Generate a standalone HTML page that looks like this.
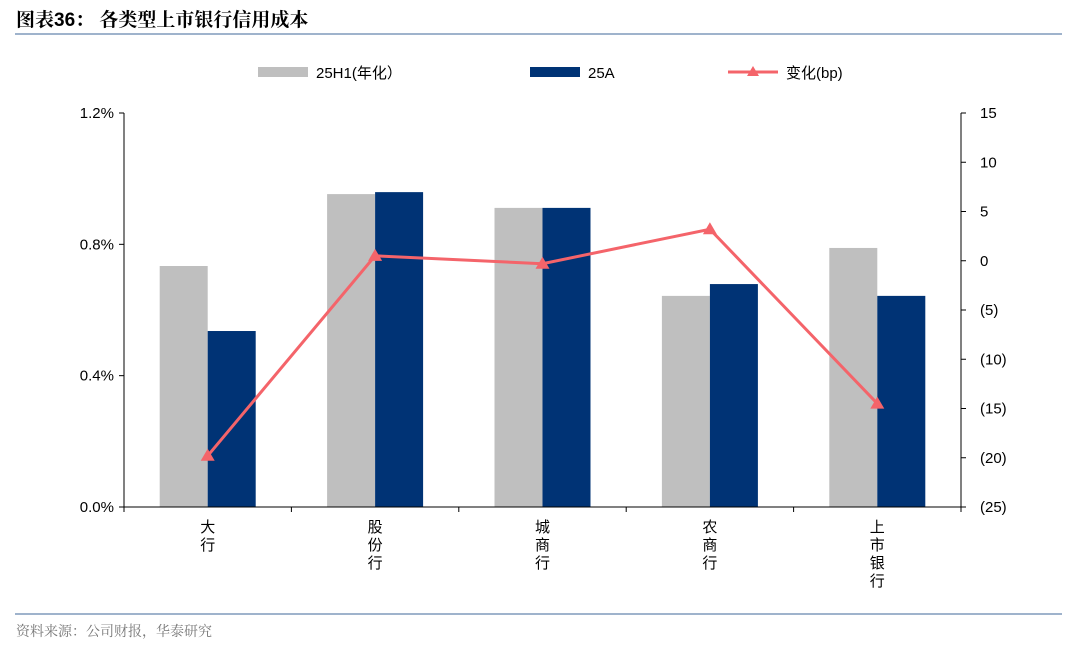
<!DOCTYPE html>
<html><head><meta charset="utf-8"><style>
body{margin:0;background:#fff;width:1080px;height:647px;overflow:hidden;font-family:"Liberation Sans","Noto Sans CJK SC",sans-serif}
svg text{font-family:"Liberation Sans","Noto Sans CJK SC",sans-serif}
svg text.serif{font-family:"Liberation Sans","Noto Serif CJK SC",serif}
</style></head><body>
<svg width="1080" height="647" id="c">
<text class="serif" x="16" y="26" font-size="19" font-weight="bold" fill="#000">图表36：  各类型上市银行信用成本</text>
<rect x="15" y="33" width="1047" height="2" fill="#9fb3cc"/>
<g>
<rect x="258" y="67" width="50" height="10" fill="#bfbfbf"/>
<text x="316" y="78" font-size="15">25H1(年化）</text>
<rect x="530" y="67" width="50" height="10" fill="#003375"/>
<text x="588" y="78" font-size="15">25A</text>
<line x1="728" y1="72" x2="778" y2="72" stroke="#f4646a" stroke-width="3"/>
<polygon points="753,66 759,76 747,76" fill="#f4646a"/>
<text x="786" y="78" font-size="15">变化(bp)</text>
</g>
<rect x="15" y="613" width="1047" height="2" fill="#9fb3cc"/>
<text class="serif" x="16" y="636" font-size="14" fill="#777">资料来源：公司财报，华泰研究</text>
<g id="plot"></g>
</svg>
<script>
const categories=[["大","行"],["股","份","行"],["城","商","行"],["农","商","行"],["上","市","银","行"]];
const h1Values=[0.734,0.953,0.911,0.643,0.789];
const aValues=[0.536,0.959,0.911,0.679,0.643];
const changeValues=[-19.8,0.5,-0.3,3.2,-14.5];
const leftTicks=["0.0%","0.4%","0.8%","1.2%"];
const leftTickVals=[0,0.4,0.8,1.2];
const rightTickVals=[15,10,5,0,-5,-10,-15,-20,-25];
const rightTickLabels=["15","10","5","0","(5)","(10)","(15)","(20)","(25)"];
const L=124,R=961,T=113,B=507;
const yL=v=>B-(v/1.2)*(B-T);
const yR=v=>T+(15-v)/40*(B-T);
const bw=(R-L)/categories.length;
const cx=i=>L+bw*(i+0.5);
const g=document.getElementById('plot');const NS="http://www.w3.org/2000/svg";
function mk(t,a){const e=document.createElementNS(NS,t);for(const k in a)e.setAttribute(k,a[k]);g.appendChild(e);return e;}
h1Values.forEach((v,i)=>{const e=mk('rect',{x:cx(i)-48,y:yL(v),width:48,height:B-yL(v),fill:'#bfbfbf'});

});
aValues.forEach((v,i)=>{const e=mk('rect',{x:cx(i),y:yL(v),width:48,height:B-yL(v),fill:'#003375'});

});
let ax=mk('line',{x1:L,y1:T,x2:L,y2:B,stroke:'#000','stroke-width':1});


ax=mk('line',{x1:R,y1:T,x2:R,y2:B,stroke:'#000','stroke-width':1});


ax=mk('line',{x1:L,y1:B,x2:R,y2:B,stroke:'#000','stroke-width':1});


leftTickVals.forEach((v,i)=>{mk('line',{x1:L-5,y1:yL(v),x2:L,y2:yL(v),stroke:'#000'});
const t=mk('text',{x:L-10,y:yL(v)+5,'font-size':15,'text-anchor':'end'});t.textContent=leftTicks[i];

});
rightTickVals.forEach((v,i)=>{mk('line',{x1:R,y1:yR(v),x2:R+5,y2:yR(v),stroke:'#000'});
const t=mk('text',{x:R+19,y:yR(v)+5,'font-size':15});t.textContent=rightTickLabels[i];

});
for(let i=0;i<=categories.length;i++)mk('line',{x1:L+bw*i,y1:B,x2:L+bw*i,y2:B+5,stroke:'#000'});
categories.forEach((c,i)=>c.forEach((ch,j)=>{const t=mk('text',{x:cx(i),y:B+25+j*18,'font-size':15,'text-anchor':'middle'});t.textContent=ch;

}));
const pl=mk('polyline',{points:changeValues.map((v,i)=>cx(i)+','+yR(v)).join(' '),fill:'none',stroke:'#f4646a','stroke-width':3});


changeValues.forEach((v,i)=>{const x=cx(i),y=yR(v);const p=mk('polygon',{points:`${x},${y-7} ${x+7},${y+5} ${x-7},${y+5}`,fill:'#f4646a'});

});
</script>
</body></html>
